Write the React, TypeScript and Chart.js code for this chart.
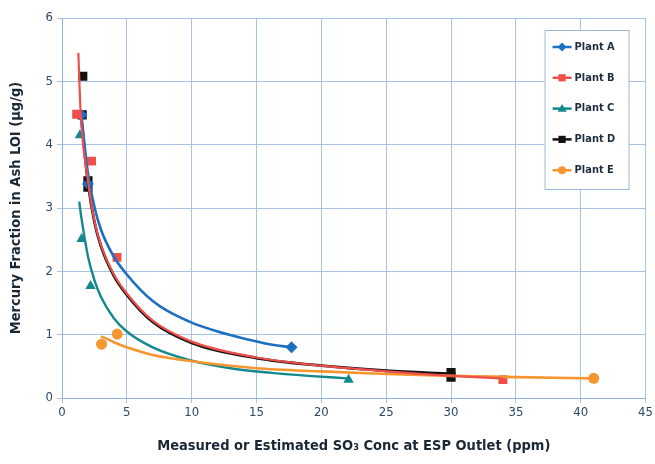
import React, { useEffect, useRef } from "react";
import { Chart, registerables } from "chart.js";

Chart.register(...registerables);

const FONT = "'DejaVu Sans Condensed', 'Liberation Sans Narrow', 'Roboto Condensed', sans-serif";

const plantNames = ["Plant A", "Plant B", "Plant C", "Plant D", "Plant E"];
const plantColors = ["#1d6fc2", "#ef4f4a", "#13898e", "#111111", "#f6962f"];
const plantStyles = ["rectRot", "rect", "triangle", "rect", "circle"];
const plantMarkerRadius = [6, 6.3, 6, 6.5, 5.5];

// measured points
const plantAPoints = [
  { x: 1.5, y: 4.47 },
  { x: 2.0, y: 3.38 },
  { x: 17.7, y: 0.8 },
];
const plantBPoints = [
  { x: 1.13, y: 4.48 },
  { x: 2.28, y: 3.74 },
  { x: 4.24, y: 2.22 },
  { x: 34.0, y: 0.29 },
];
const plantCPoints = [
  { x: 1.38, y: 4.15 },
  { x: 1.51, y: 2.51 },
  { x: 2.2, y: 1.77 },
  { x: 22.1, y: 0.29 },
];
const plantDPoints = [
  { x: 1.6, y: 5.08 },
  { x: 1.55, y: 4.47 },
  { x: 2.0, y: 3.43 },
  { x: 2.0, y: 3.33 },
  { x: 30.0, y: 0.4 },
  { x: 30.0, y: 0.33 },
];
const plantEPoints = [
  { x: 3.05, y: 0.85 },
  { x: 4.26, y: 1.01 },
  { x: 41.0, y: 0.31 },
];

// trend curves
const plantACurve = [
  { x: 1.5, y: 4.45 }, { x: 2, y: 3.55 }, { x: 2.5, y: 3.02 }, { x: 3, y: 2.66 },
  { x: 4, y: 2.23 }, { x: 5, y: 1.95 }, { x: 6, y: 1.72 }, { x: 7, y: 1.53 },
  { x: 8, y: 1.39 }, { x: 10, y: 1.19 }, { x: 12, y: 1.05 }, { x: 14, y: 0.94 },
  { x: 16, y: 0.85 }, { x: 17.7, y: 0.8 },
];
const plantBCurve = [
  { x: 1.26, y: 5.45 }, { x: 1.44, y: 4.5 }, { x: 2, y: 3.43 }, { x: 2.5, y: 2.8 },
  { x: 3, y: 2.42 }, { x: 4, y: 1.95 }, { x: 5, y: 1.65 }, { x: 7, y: 1.22 },
  { x: 10, y: 0.89 }, { x: 15, y: 0.64 }, { x: 20, y: 0.51 }, { x: 25, y: 0.42 },
  { x: 30, y: 0.35 }, { x: 34, y: 0.31 },
];
const plantCCurve = [
  { x: 1.33, y: 3.1 }, { x: 1.5, y: 2.84 }, { x: 2, y: 2.24 }, { x: 2.5, y: 1.86 },
  { x: 3, y: 1.6 }, { x: 4, y: 1.26 }, { x: 5, y: 1.05 }, { x: 7, y: 0.8 },
  { x: 10, y: 0.59 }, { x: 13, y: 0.47 }, { x: 16, y: 0.4 }, { x: 19, y: 0.35 },
  { x: 22, y: 0.31 },
];
const plantDCurve = [
  { x: 1.5, y: 4.4 }, { x: 2, y: 3.4 }, { x: 2.5, y: 2.78 }, { x: 3, y: 2.4 },
  { x: 4, y: 1.93 }, { x: 5, y: 1.63 }, { x: 7, y: 1.2 }, { x: 10, y: 0.87 },
  { x: 15, y: 0.63 }, { x: 20, y: 0.51 }, { x: 25, y: 0.43 }, { x: 30, y: 0.38 },
];
const plantECurve = [
  { x: 3.0, y: 0.97 }, { x: 3.3, y: 0.95 }, { x: 4, y: 0.88 }, { x: 5, y: 0.8 },
  { x: 7, y: 0.68 }, { x: 10, y: 0.58 }, { x: 15, y: 0.47 }, { x: 20, y: 0.42 },
  { x: 25, y: 0.38 }, { x: 30, y: 0.35 }, { x: 35, y: 0.33 }, { x: 41, y: 0.31 },
];

const xTicks = [0, 5, 10, 15, 20, 25, 30, 35, 40, 45];
const yTicks = [0, 1, 2, 3, 4, 5, 6];

const curves = [plantACurve, plantBCurve, plantCCurve, plantDCurve, plantECurve];
const points = [plantAPoints, plantBPoints, plantCPoints, plantDPoints, plantEPoints];
const curveWidths = [2.6, 2.2, 2.4, 2.8, 2.6];
const drawOrder = [1, 4, 2, 0, 3]; // B, E, C, A, D

function drawMarker(ctx: CanvasRenderingContext2D, style: string, x: number, y: number, r: number, color: string) {
  ctx.fillStyle = color;
  ctx.beginPath();
  if (style === "rectRot") {
    ctx.moveTo(x, y - r); ctx.lineTo(x + r, y); ctx.lineTo(x, y + r); ctx.lineTo(x - r, y);
    ctx.closePath();
  } else if (style === "rect") {
    ctx.rect(x - r * 0.8, y - r * 0.8, r * 1.6, r * 1.6);
  } else if (style === "triangle") {
    ctx.moveTo(x, y - r); ctx.lineTo(x + r, y + r * 0.7); ctx.lineTo(x - r, y + r * 0.7);
    ctx.closePath();
  } else {
    ctx.arc(x, y, r * 0.9, 0, Math.PI * 2);
  }
  ctx.fill();
}

const boxLegend = {
  id: "boxLegend",
  afterDraw(chart: any) {
    const { ctx, chartArea } = chart;
    const left = chartArea.right - 101;
    const top = chartArea.top + 12;
    const w = 84;
    const h = 159;
    ctx.save();
    ctx.fillStyle = "#ffffff";
    ctx.fillRect(left, top, w, h);
    ctx.strokeStyle = "#9bb7d6";
    ctx.lineWidth = 1;
    ctx.strokeRect(left + 0.5, top + 0.5, w, h);
    plantNames.forEach((name, i) => {
      const y = top + 17 + i * 30.8;
      ctx.strokeStyle = plantColors[i];
      ctx.lineWidth = 2.5;
      ctx.beginPath();
      ctx.moveTo(left + 8, y);
      ctx.lineTo(left + 27, y);
      ctx.stroke();
      drawMarker(ctx, plantStyles[i], left + 17.5, y, 4.5, plantColors[i]);
      ctx.fillStyle = "#1e2d3d";
      ctx.font = `bold 11px ${FONT}`;
      ctx.textBaseline = "middle";
      ctx.textAlign = "left";
      ctx.fillText(name, left + 30, y);
    });
    ctx.restore();
  },
};

export default function App() {
  const ref = useRef<HTMLCanvasElement | null>(null);
  useEffect(() => {
    if (!ref.current) return;
    const datasets: any[] = [];
    drawOrder.forEach((i) => {
      datasets.push({
        type: "line",
        label: plantNames[i] + " trend",
        data: curves[i],
        borderColor: plantColors[i],
        borderWidth: curveWidths[i],
        pointRadius: 0,
        showLine: true,
        cubicInterpolationMode: "monotone",
        fill: false,
      });
    });
    drawOrder.forEach((i) => {
      datasets.push({
        type: "scatter",
        label: plantNames[i],
        data: points[i],
        backgroundColor: plantColors[i],
        borderColor: plantColors[i],
        pointStyle: plantStyles[i],
        pointRadius: plantMarkerRadius[i],
        borderWidth: 0,
        showLine: false,
      });
    });
    const chart = new Chart(ref.current, {
      type: "scatter",
      data: { datasets },
      plugins: [boxLegend],
      options: {
        animation: false,
        responsive: true,
        maintainAspectRatio: false,
        layout: { padding: { left: 0, top: 18, right: 8, bottom: 0 } },
        plugins: { legend: { display: false }, tooltip: { enabled: false } },
        scales: {
          x: {
            type: "linear",
            min: 0,
            max: 45,
            afterBuildTicks: (s: any) => { s.ticks = xTicks.map((v) => ({ value: v })); },
            afterFit: (s: any) => { s.height = 66; },
            grid: { color: "#a6c2e6", lineWidth: 1, tickLength: 5 },
            border: { color: "#8fb0d6" },
            ticks: { color: "#2c4866", font: { family: FONT, size: 13 }, padding: 2 },
            title: {
              display: true,
              text: "Measured or Estimated SO\u2083 Conc at ESP Outlet (ppm)",
              color: "#1a2836",
              font: { family: FONT, size: 14.5, weight: "bold" },
              padding: { top: 0, bottom: 9 },
            },
          },
          y: {
            type: "linear",
            min: 0,
            max: 6,
            afterBuildTicks: (s: any) => { s.ticks = yTicks.map((v) => ({ value: v })); },
            afterFit: (s: any) => { s.width = 62; },
            grid: { color: "#a6c2e6", lineWidth: 1, tickLength: 5 },
            border: { color: "#8fb0d6" },
            ticks: { color: "#2c4866", font: { family: FONT, size: 13 }, padding: 4 },
            title: {
              display: true,
              text: "Mercury Fraction in Ash LOI (\u00b5g/g)",
              color: "#1a2836",
              font: { family: FONT, size: 14.5, weight: "bold" },
              padding: { top: 8, bottom: 0 },
            },
          },
        },
      } as any,
    });
    return () => chart.destroy();
  }, []);
  return (
    <div style={{ position: "fixed", left: 0, top: 0, width: 655, height: 464, background: "#fff" }}>
      <canvas ref={ref} />
    </div>
  );
}
